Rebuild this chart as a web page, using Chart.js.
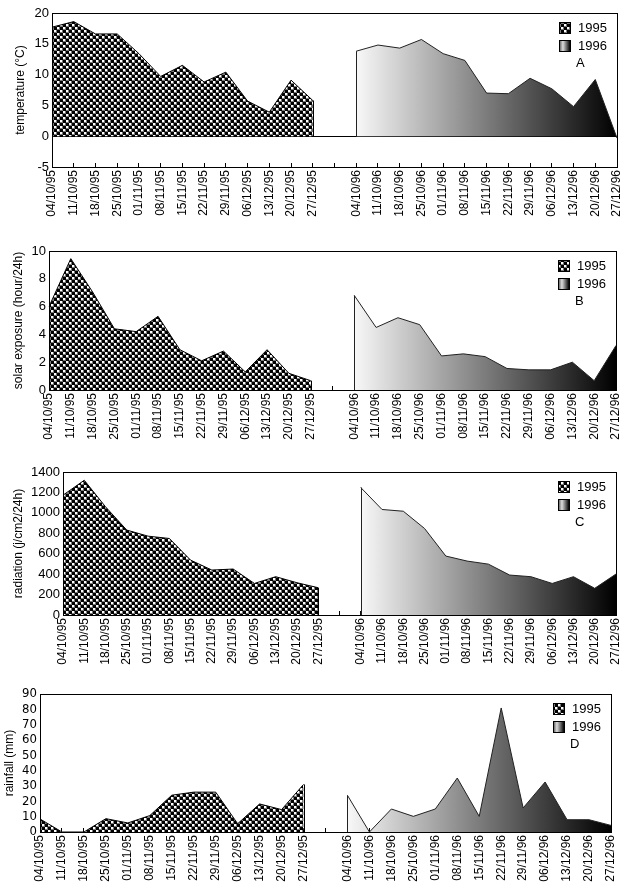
<!DOCTYPE html>
<html lang="en">
<head>
  <meta charset="UTF-8" />
  <title>Temperature, solar exposure, radiation and rainfall, autumn 1995 and 1996</title>
  <script src="https://cdn.jsdelivr.net/npm/chart.js"></script>
  <style>
    body {
      margin: 0;
      background: #fff;
      width: 620px;
      height: 887px;
      position: relative;
      overflow: hidden;
    }
    .panel {
      position: absolute;
      left: 0;
      width: 620px;
    }
    #pA { top: 0; height: 240px; }
    #pB { top: 235px; height: 230px; }
    #pC { top: 455px; height: 235px; }
    #pD { top: 680px; height: 207px; }
  </style>
</head>
<body>
  <div class="panel" id="pA"><canvas id="chartA"></canvas></div>
  <div class="panel" id="pB"><canvas id="chartB"></canvas></div>
  <div class="panel" id="pC"><canvas id="chartC"></canvas></div>
  <div class="panel" id="pD"><canvas id="chartD"></canvas></div>

  <script>
    const weeks95 = ["04/10/95","11/10/95","18/10/95","25/10/95","01/11/95","08/11/95","15/11/95",
                     "22/11/95","29/11/95","06/12/95","13/12/95","20/12/95","27/12/95"];
    const weeks96 = ["04/10/96","11/10/96","18/10/96","25/10/96","01/11/96","08/11/96","15/11/96",
                     "22/11/96","29/11/96","06/12/96","13/12/96","20/12/96","27/12/96"];
    const labels = weeks95.concat([""], weeks96);

    // A: temperature (°C)
    const temp95 = [17.7, 18.6, 16.6, 16.6, 13.4, 9.7, 11.5, 8.8, 10.4, 5.7, 3.9, 9.1, 5.8];
    const temp96 = [13.8, 14.8, 14.3, 15.7, 13.4, 12.3, 7.0, 6.9, 9.4, 7.7, 4.8, 9.2, -0.3];
    // B: solar exposure (hour/24h)
    const sun95 = [6.0, 9.45, 7.05, 4.4, 4.2, 5.3, 2.9, 2.1, 2.8, 1.3, 2.9, 1.2, 0.67];
    const sun96 = [6.8, 4.5, 5.2, 4.7, 2.45, 2.6, 2.4, 1.55, 1.45, 1.45, 2.0, 0.67, 3.2];
    // C: radiation (j/cm2/24h)
    const rad95 = [1173, 1319, 1059, 831, 772, 749, 537, 440, 450, 309, 375, 316, 267];
    const rad96 = [1248, 1033, 1016, 847, 577, 528, 498, 391, 375, 309, 375, 261, 401];
    // D: rainfall (mm)
    const rain95 = [8.5, 0, 0, 8.7, 5.9, 10.7, 24, 26, 26, 5.4, 18.3, 14.6, 31];
    const rain96 = [23.9, 0, 15, 10.2, 15, 35.2, 10.2, 80.9, 15.7, 32.6, 8.0, 8.0, 4.3];

    const FONT = '"Liberation Sans", Arial, sans-serif';

    // checkered fill used for 1995
    function makeChecker() {
      const t = document.createElement("canvas");
      t.width = 6; t.height = 6;
      const c = t.getContext("2d");
      c.fillStyle = "#000"; c.fillRect(0, 0, 6, 6);
      c.fillStyle = "#7a7a7a"; c.fillRect(0, 0, 3, 3); c.fillRect(3, 3, 3, 3);
      c.fillStyle = "#fff"; c.fillRect(0, 0, 2, 2); c.fillRect(3, 3, 2, 2);
      return c.createPattern(t, "repeat");
    }
    const checker = makeChecker();

    // 1996 fill: light grey at the first 1996 week, black at the last
    function gradient96(ctx) {
      const chart = ctx.chart;
      if (!chart.chartArea) return "#888";
      const x = chart.scales.x;
      const x0 = x.getPixelForValue(weeks95.length + 1);
      const x1 = x.getPixelForValue(labels.length - 1);
      const g = chart.ctx.createLinearGradient(x0, 0, x1, 0);
      g.addColorStop(0, "#f8f8f8");
      g.addColorStop(1, "#000");
      return g;
    }

    // vertical edges of each area + frame round the plot
    const edgesAndFrame = {
      id: "edgesAndFrame",
      afterDatasetsDraw(chart) {
        const { ctx, chartArea: a } = chart;
        const y0 = chart.scales.y.getPixelForValue(0);
        ctx.save();
        ctx.lineWidth = 1;
        chart.data.datasets.forEach((ds, i) => {
          const meta = chart.getDatasetMeta(i);
          const idx = [];
          ds.data.forEach((v, k) => { if (v !== null) idx.push(k); });
          ctx.strokeStyle = ds.borderColor;
          [idx[0], idx[idx.length - 1]].forEach(k => {
            const p = meta.data[k];
            const px = Math.round(p.x) + 0.5;
            ctx.beginPath();
            ctx.moveTo(px, p.y);
            ctx.lineTo(px, y0);
            ctx.stroke();
          });
        });
        ctx.strokeStyle = "#000";
        ctx.strokeRect(Math.round(a.left) + 0.5, Math.round(a.top) + 0.5,
                       Math.round(a.right - a.left), Math.round(a.bottom - a.top));
        ctx.restore();
      }
    };

    const panelLegend = {
      id: "panelLegend",
      afterDraw(chart, args, o) {
        const { ctx, chartArea: a } = chart;
        const sx = Math.round(a.right) - 58;
        const tx = Math.round(a.right) - 39;
        const t = Math.round(a.top);
        ctx.save();
        ctx.lineWidth = 1;
        ctx.strokeStyle = "#000";
        ctx.fillStyle = checker;
        ctx.fillRect(sx, t + 9, 11, 11);
        ctx.strokeRect(sx + 0.5, t + 9.5, 11, 11);
        const g = ctx.createLinearGradient(sx, 0, sx + 11, 0);
        g.addColorStop(0, "#444");
        g.addColorStop(0.35, "#ddd");
        g.addColorStop(1, "#000");
        ctx.fillStyle = g;
        ctx.fillRect(sx, t + 27, 11, 11);
        ctx.strokeRect(sx + 0.5, t + 27.5, 11, 11);
        ctx.fillStyle = "#000";
        ctx.font = "13px " + FONT;
        ctx.textBaseline = "middle";
        ctx.fillText("1995", tx, t + 15);
        ctx.fillText("1996", tx, t + 33);
        ctx.fillText(o.letter, tx - 2, t + 50);
        ctx.restore();
      }
    };

    function split(v95, v96) {
      const gap = [null];
      const a = v95.concat(gap, v96.map(() => null));
      const b = v95.map(() => null).concat(gap, v96);
      return [a, b];
    }

    function makeChart(id, p) {
      const [d95, d96] = split(p.v95, p.v96);
      new Chart(document.getElementById(id), {
        type: "line",
        data: {
          labels: labels,
          datasets: [
            {
              label: "1995",
              data: d95,
              borderColor: "#000",
              borderWidth: 1,
              backgroundColor: checker,
              fill: "origin",
              pointRadius: 0,
              tension: 0,
              spanGaps: false
            },
            {
              label: "1996",
              data: d96,
              borderColor: "#222",
              borderWidth: 1,
              backgroundColor: gradient96,
              fill: "origin",
              pointRadius: 0,
              tension: 0,
              spanGaps: false
            }
          ]
        },
        options: {
          responsive: true,
          maintainAspectRatio: false,
          animation: false,
          events: [],
          layout: { padding: { top: p.padTop, right: p.padRight, left: 0, bottom: 0 } },
          plugins: {
            legend: { display: false },
            tooltip: { enabled: false },
            panelLegend: { letter: p.letter }
          },
          scales: {
            x: {
              z: 1,
              offset: false,
              grid: {
                display: true,
                drawOnChartArea: false,
                drawTicks: true,
                tickLength: -4,
                tickColor: "#000"
              },
              border: { display: true, color: "#000" },
              ticks: {
                autoSkip: false,
                maxRotation: 90,
                minRotation: 90,
                padding: 7,
                color: "#000",
                font: { family: FONT, size: 12 }
              },
              afterFit(s) {
                s.height = p.xHeight;
                s.paddingLeft = 0;
                s.paddingRight = 0;
              }
            },
            y: {
              min: p.min,
              max: p.max,
              ticks: {
                stepSize: p.step,
                autoSkip: false,
                padding: 3,
                color: "#000",
                font: { family: p.tickFamily || FONT, size: p.tickSize || 13 },
                callback: v => String(v)
              },
              grid: {
                drawTicks: false,
                color: c => (p.zeroLine && c.tick && c.tick.value === 0) ? "#000" : "rgba(0,0,0,0)"
              },
              border: { display: true, color: "#000" },
              title: {
                display: true,
                text: p.title,
                color: "#000",
                padding: { top: p.titlePad, bottom: 0 },
                font: { family: FONT, size: 12 }
              },
              afterFit(s) {
                s.width = p.yWidth;
                s.paddingTop = 0;
                s.paddingBottom = 0;
              }
            }
          }
        },
        plugins: [edgesAndFrame, panelLegend]
      });
    }

    makeChart("chartA", {
      v95: temp95, v96: temp96, min: -5, max: 20, step: 5,
      title: "temperature (°C)", letter: "A", zeroLine: true,
      padTop: 13, padRight: 3, yWidth: 52, xHeight: 73, titlePad: 13
    });
    makeChart("chartB", {
      v95: sun95, v96: sun96, min: 0, max: 10, step: 2,
      title: "solar exposure (hour/24h)", letter: "B",
      padTop: 16, padRight: 4, yWidth: 49, xHeight: 75, titlePad: 11
    });
    makeChart("chartC", {
      v95: rad95, v96: rad96, min: 0, max: 1400, step: 200,
      title: "radiation (j/cm2/24h)", letter: "C",
      padTop: 17, padRight: 4, yWidth: 63, xHeight: 75, titlePad: 11
    });
    makeChart("chartD", {
      v95: rain95, v96: rain96, min: 0, max: 90, step: 10,
      title: "rainfall (mm)", letter: "D",
      tickFamily: '"Liberation Sans Narrow", "DejaVu Sans Condensed", "Liberation Sans", sans-serif',
      tickSize: 13,
      padTop: 14, padRight: 9, yWidth: 40, xHeight: 55, titlePad: 2
    });
  </script>
</body>
</html>
